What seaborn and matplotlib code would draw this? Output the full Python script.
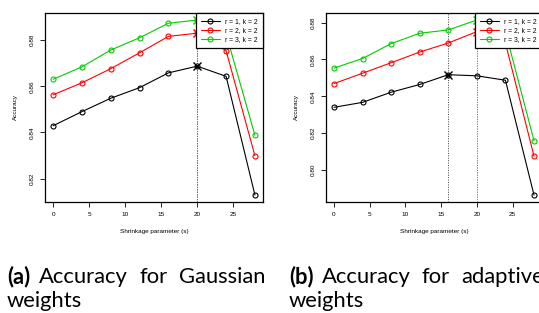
import numpy as np
import pandas as pd
import matplotlib
matplotlib.use("Agg")
import matplotlib.pyplot as plt
from matplotlib.lines import Line2D
import seaborn as sns

# ---- data ----
shrinkage = [0, 4, 8, 12, 16, 20, 24, 28]
series_labels = ["r = 1, k = 2", "r = 2, k = 2", "r = 3, k = 2"]
series_colors = ["black", "#FF0000", "#00CD00"]

gauss_r1 = [0.8429, 0.8490, 0.8548, 0.8594, 0.8658, 0.8687, 0.8643, 0.8129]
gauss_r2 = [0.8563, 0.8615, 0.8676, 0.8745, 0.8816, 0.8830, 0.8754, 0.8299]
gauss_r3 = [0.8630, 0.8684, 0.8757, 0.8810, 0.8873, 0.8887, 0.8826, 0.8388]

adapt_r1 = [0.8340, 0.8367, 0.8422, 0.8464, 0.8517, 0.8511, 0.8487, 0.7864]
adapt_r2 = [0.8469, 0.8525, 0.8582, 0.8640, 0.8689, 0.8751, 0.8689, 0.8075]
adapt_r3 = [0.8553, 0.8605, 0.8686, 0.8742, 0.8760, 0.8814, 0.8751, 0.8159]

y_ticks_a = [0.82, 0.84, 0.86, 0.88]
y_ticks_b = [0.80, 0.82, 0.84, 0.86, 0.88]
x_ticks = [0, 5, 10, 15, 20, 25]

caption_a_words = ["(a)", "Accuracy", "for", "Gaussian"]
caption_b_words = ["(b)", "Accuracy", "for", "adaptive"]
caption_line2 = "weights"

sns.set_theme(style="white")
plt.rcParams["font.family"] = ["Liberation Sans", "DejaVu Sans"]
for k in ["text.color", "axes.labelcolor", "xtick.color", "ytick.color"]:
    plt.rcParams[k] = "black"

W, H = 539, 313
fig = plt.figure(figsize=(W / 100, H / 100), dpi=100)


def make_panel(rect, series, yticks):
    ax = fig.add_axes(rect)
    allv = np.concatenate([np.asarray(s) for s in series])
    lo, hi = allv.min(), allv.max()
    pad = (hi - lo) * 0.04
    ax.set_ylim(lo - pad, hi + pad)
    xr = max(shrinkage) - min(shrinkage)
    ax.set_xlim(min(shrinkage) - 0.04 * xr, max(shrinkage) + 0.04 * xr)
    for vals, col, lab in zip(series, series_colors, series_labels):
        df = pd.DataFrame({"s": shrinkage, "acc": vals})
        sns.lineplot(data=df, x="s", y="acc", ax=ax, color=col, lw=0.8,
                     marker="o", ms=3.6, mfc="none", mec=col, mew=0.8,
                     label=lab, legend=False)
        i = int(np.argmax(vals))
        ax.axvline(shrinkage[i], color=col, ls=(0, (1, 1.5)), lw=0.7,
                   alpha=0.75, zorder=1)
        ax.plot([shrinkage[i]], [vals[i]], marker="x", ms=6, mew=1.0,
                color=col, ls="none")
    hs = [Line2D([0], [0], color=c, lw=0.8, marker="o", ms=3.6, mfc="none",
                 mec=c, mew=0.8) for c in series_colors]
    leg = ax.legend(hs, series_labels, loc="upper right", fontsize=4.9,
                    frameon=True, fancybox=False, borderaxespad=0,
                    handlelength=2.8, handletextpad=0.8, borderpad=0.75,
                    labelspacing=0.3)
    leg.get_frame().set_edgecolor("black")
    leg.get_frame().set_linewidth(0.9)
    leg.get_frame().set_alpha(1)
    for sp in ax.spines.values():
        sp.set_visible(True)
        sp.set_color("black")
        sp.set_linewidth(0.9)
    ax.set_xticks(x_ticks)
    ax.set_xticklabels([str(v) for v in x_ticks])
    ax.set_yticks(yticks)
    ax.set_yticklabels([f"{v:.2f}" for v in yticks], rotation=90, va="center")
    ax.tick_params(axis="both", which="both", direction="out", length=3.5,
                   width=0.6, labelsize=4.6, color="black", pad=4,
                   left=True, bottom=True)
    ax.set_xlabel("Shrinkage parameter (s)", fontsize=4.6, labelpad=8)
    ax.set_ylabel("Accuracy", fontsize=4.6, labelpad=8)
    ax.grid(False)
    ax.set_facecolor("white")
    return ax


ax_a = make_panel([45 / W, 1 - 202 / H, 218 / W, (202 - 13) / H],
                  [gauss_r1, gauss_r2, gauss_r3], y_ticks_a)
ax_b = make_panel([326 / W, 1 - 202 / H, 216 / W, (202 - 13) / H],
                  [adapt_r1, adapt_r2, adapt_r3], y_ticks_b)

# captions (justified first line: words placed at measured starts)
fig.canvas.draw()
renderer = fig.canvas.get_renderer()
CAP_FONT = ["Lato", "DejaVu Sans"]

# fit font size so "Accuracy" spans ~89 px
probe = fig.text(0, 0, "Accuracy", fontsize=10, family=CAP_FONT)
w10 = probe.get_window_extent(renderer).width
probe.remove()
CAP_SIZE = 10 * 89 / w10


def caption(words, starts, x2):
    y1 = 1 - 283 / H
    y2 = 1 - 307 / H
    for j, (wd, xs) in enumerate(zip(words, starts)):
        fig.text(xs / W, y1, wd, fontsize=CAP_SIZE,
                 fontweight="bold" if j == 0 else "normal",
                 va="baseline", ha="left", family=CAP_FONT, color="black")
    fig.text(x2 / W, y2, caption_line2, fontsize=CAP_SIZE, va="baseline",
             ha="left", family=CAP_FONT, color="black")


caption(caption_a_words, [7, 39, 139, 179], 7)
caption(caption_b_words, [289, 322, 422, 461], 289)

fig.savefig("out.png", dpi=100, facecolor="white")
